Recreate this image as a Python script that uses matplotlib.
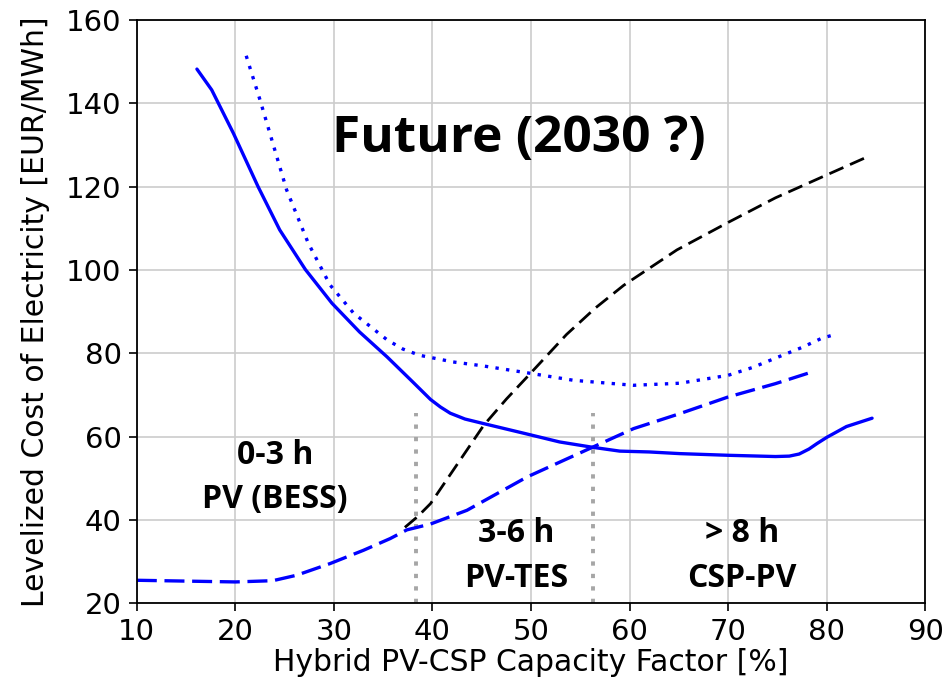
import numpy as np
import matplotlib
matplotlib.use("Agg")
import matplotlib.pyplot as plt

# --- data ---
# PV + battery (solid blue)
pv_bess_x = [16.1, 17.6, 19.8, 22.3, 24.5, 27.1, 29.8, 32.6, 35.4, 38.0, 39.8, 40.8, 41.8, 43.3,
             45.2, 49.6, 52.9, 56.3, 59.0, 62.0, 65.1, 70.0, 74.8, 76.2, 77.2, 78.2, 79.0,
             80.0, 82.0, 84.6]
pv_bess_y = [148.2, 143.2, 132.8, 120.0, 109.6, 100.1, 92.0, 85.1, 79.1, 73.1, 68.9, 67.1, 65.6, 64.2,
             63.1, 60.6, 58.7, 57.4, 56.5, 56.3, 55.9, 55.5, 55.2, 55.3, 55.8, 57.0, 58.3,
             59.8, 62.4, 64.4]

# PV only (dotted blue)
pv_x = [21.1, 22.5, 23.5, 25.2, 27.4, 29.6, 32.0, 35.4, 37.0, 38.7, 42.1, 45.0, 49.6, 54.3,
        60.4, 65.1, 70.0, 72.5, 75.3, 77.5, 79.5, 80.7]
pv_y = [151.4, 140.8, 132.8, 119.2, 106.4, 96.4, 89.6, 83.2, 81.0, 79.5, 77.9, 77.0, 75.3, 73.5,
        72.3, 72.8, 74.7, 76.6, 79.3, 81.4, 83.6, 84.4]

# PV-TES (dashed blue)
pv_tes_x = [10.0, 15.0, 20.0, 23.8, 26.2, 29.6, 33.0, 35.7, 37.4, 39.8, 43.5, 49.6, 56.3,
            60.4, 65.1, 70.0, 74.8, 78.5]
pv_tes_y = [25.5, 25.3, 25.1, 25.4, 26.7, 29.5, 32.7, 35.5, 37.6, 39.0, 42.3, 50.3, 57.5,
            61.9, 65.5, 69.5, 72.7, 75.5]

# CSP-PV (dashed black)
csp_x = [37.2, 38.5, 39.8, 42.5, 45.2, 47.5, 49.6, 53.6, 56.5, 59.4, 64.8, 70.0, 74.8, 80.0, 83.9]
csp_y = [38.2, 40.8, 43.9, 53.3, 62.7, 69.0, 74.3, 84.5, 90.8, 96.3, 104.8, 111.4, 117.3, 122.8, 126.9]

# storage-hour borders
borders_x = [38.3, 56.3]
border_top = 65.6

fig = plt.figure(figsize=(9.5, 6.87), dpi=100)
ax = fig.add_axes([0.144, 0.122, 0.830, 0.849])

for bx in borders_x:
    ax.plot([bx, bx], [20, border_top], color='#a6a6a6', lw=2.8,
            linestyle=(0, (1.1, 2.1)), dash_capstyle='butt', zorder=1.5)

ax.plot(pv_bess_x, pv_bess_y, color='blue', lw=2.4, solid_capstyle='round', solid_joinstyle='round')
ax.plot(pv_x, pv_y, color='blue', lw=2.4, linestyle=(0, (1.0, 2.2)), dash_capstyle='butt')
ax.plot(pv_tes_x, pv_tes_y, color='blue', lw=2.4, linestyle=(0, (6.0, 2.3)))
ax.plot(csp_x, csp_y, color='black', lw=2.0, linestyle=(0, (5.5, 2.6)))

ax.set_xlim(10, 90)
ax.set_ylim(20, 160)
ax.set_xticks(np.arange(10, 91, 10))
ax.set_yticks(np.arange(20, 161, 20))
ax.tick_params(labelsize=21, length=6, width=1.2, pad=5)
ax.grid(True, color='#cccccc', lw=1.2)
ax.set_axisbelow(True)
for sp in ax.spines.values():
    sp.set_linewidth(1.3)

ax.set_xlabel("Hybrid PV-CSP Capacity Factor [%]", fontsize=21.5)
ax.set_ylabel("Levelized Cost of Electricity [EUR/MWh]", fontsize=21.5)
ax.xaxis.set_label_coords(0.5, -0.077)
ax.yaxis.set_label_coords(-0.110, 0.5)

label_font = 'Open Sans'
ax.text(48.8, 131.4, "Future (2030 ?)", fontsize=37, fontweight='bold',
        family=label_font, ha='center', va='center')
ax.text(24.0, 50.1, "0-3 h\nPV (BESS)", fontsize=23, fontweight='bold',
        family=label_font, ha='center', va='center', linespacing=1.45)
ax.text(48.5, 31.3, "3-6 h\nPV-TES", fontsize=23, fontweight='bold',
        family=label_font, ha='center', va='center', linespacing=1.45)
ax.text(71.4, 31.3, "> 8 h\nCSP-PV", fontsize=23, fontweight='bold',
        family=label_font, ha='center', va='center', linespacing=1.45)

fig.savefig("out.png", dpi=100)
